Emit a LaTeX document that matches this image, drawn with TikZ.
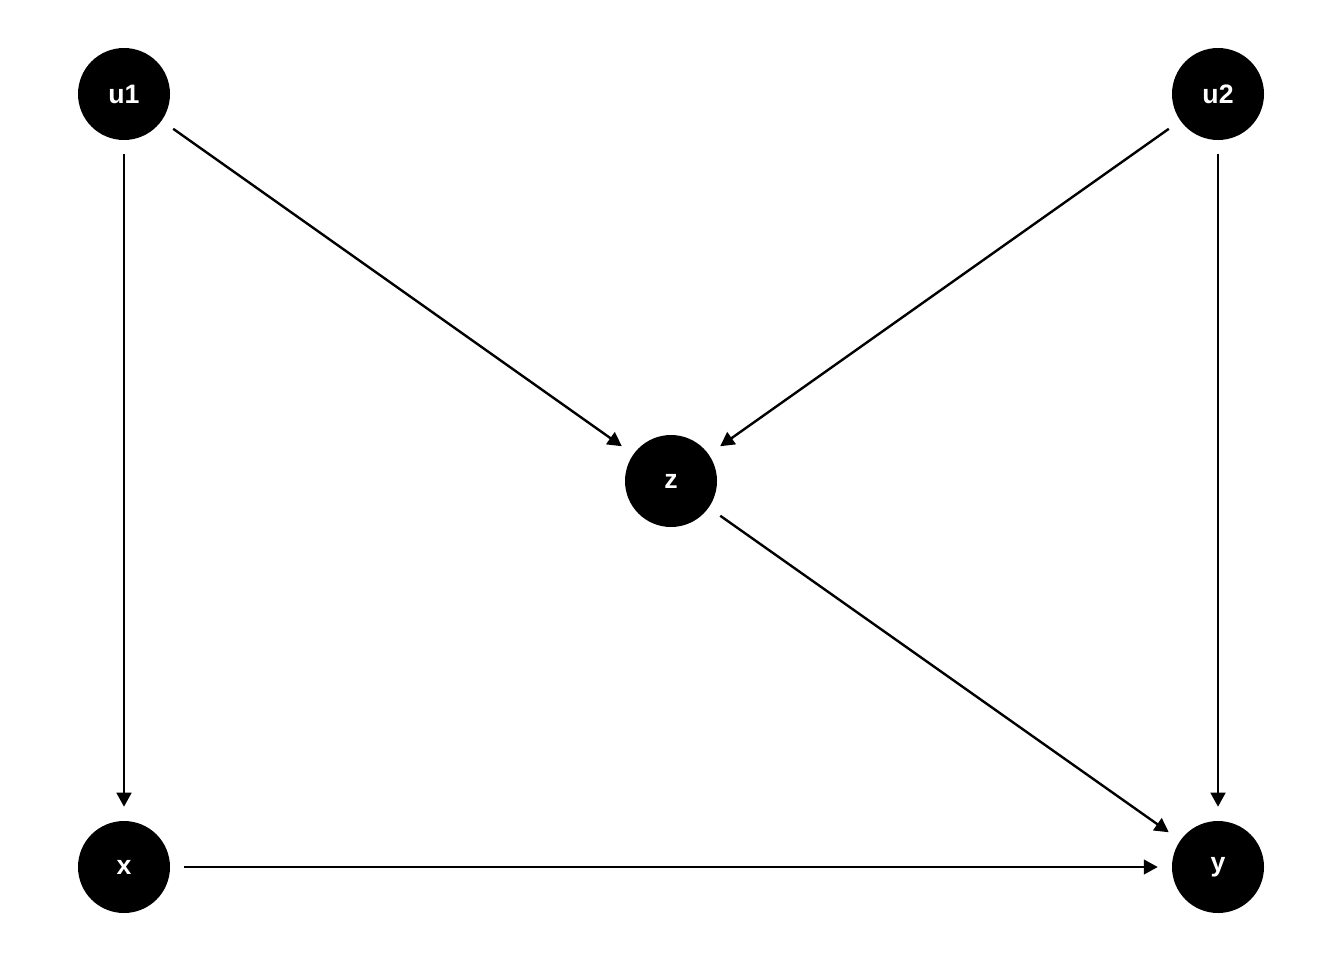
\documentclass[tikz,border=0pt]{standalone}
\usepackage{fontspec}
\setmainfont{Liberation Sans}
\usepackage{tikz}
\usetikzlibrary{arrows.meta}

\begin{document}
\begin{tikzpicture}[x=0.75pt, y=-0.75pt,
  var/.style={circle, fill=black, minimum size=69pt, inner sep=0pt,
    text=white, font=\fontsize{20}{24}\selectfont\bfseries},
  edge/.style={black, line width=1.8pt, shorten <=10.5pt, shorten >=10.5pt,
    -{Triangle[length=10.5pt, width=11pt]}}]
\useasboundingbox (0,0) rectangle (1344,960);

\node[var] (u1) at (124,94) {u1};
\node[var] (u2) at (1218,94) {u2};
\node[var] (z) at (671,481) {z};
\node[var] (x) at (124,867) {x};
\node[var] (y) at (1218,867) {y};

\draw[edge] (u1) -- (x);
\draw[edge] (u1) -- (z);
\draw[edge] (u2) -- (z);
\draw[edge] (u2) -- (y);
\draw[edge] (z) -- (y);
\draw[edge] (x) -- (y);
%
\end{tikzpicture}
\end{document}
